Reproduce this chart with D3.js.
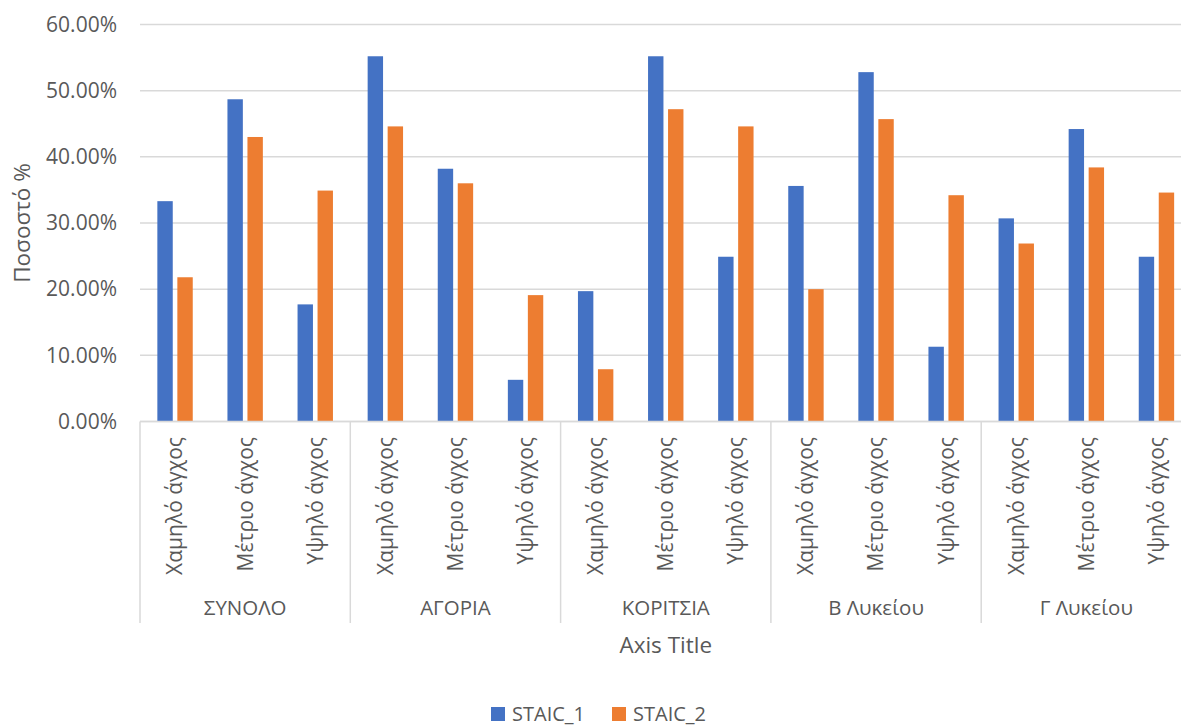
<!DOCTYPE html>
<html>
<head>
<meta charset="utf-8">
<script src="https://cdn.jsdelivr.net/npm/d3@7"></script>
<style>
  html, body { margin: 0; padding: 0; background: #fff; }
  svg { display: block; font-family: "Open Sans", "Noto Sans", sans-serif; }
</style>
</head>
<body>
<svg id="chart" width="1181" height="727"></svg>
<script>
// Anxiety levels per group, two STAIC measurements
const groups = ["ΣΥΝΟΛΟ", "ΑΓΟΡΙΑ", "ΚΟΡΙΤΣΙΑ", "Β Λυκείου", "Γ Λυκείου"];
const levels = ["Χαμηλό άγχος", "Μέτριο άγχος", "Υψηλό άγχος"];
const seriesNames = ["STAIC_1", "STAIC_2"];
const staic1 = [0.333, 0.487, 0.177, 0.552, 0.382, 0.063, 0.197, 0.552, 0.249, 0.356, 0.528, 0.113, 0.307, 0.442, 0.249];
const staic2 = [0.218, 0.430, 0.349, 0.446, 0.360, 0.191, 0.079, 0.472, 0.446, 0.200, 0.457, 0.342, 0.269, 0.384, 0.346];
const yTicks = [0, 0.1, 0.2, 0.3, 0.4, 0.5, 0.6];

const colors = ["#4472C4", "#ED7D31"];
const textColor = "#595959";
const gridColor = "#D9D9D9";

const svg = d3.select("#chart");

const plotLeft = 140, plotRight = 1191.5, plotTop = 24.5, plotBottom = 421.5;

// flat list of (group, level) categories
const cats = [];
groups.forEach((g, gi) => levels.forEach((l, li) => cats.push({ g, gi, l, li, i: gi * levels.length + li })));

const x0 = d3.scaleBand().domain(cats.map(c => c.i)).range([plotLeft, plotRight]).paddingInner(0).paddingOuter(0);
const xg = d3.scaleBand().domain(groups).range([plotLeft, plotRight]);
const x1 = d3.scaleBand().domain(seriesNames).range([0, x0.bandwidth()]).paddingInner(0.23).paddingOuter(0.8675);
const y = d3.scaleLinear().domain([0, 0.6]).range([plotBottom, plotTop]);

// gridlines
svg.append("g")
  .selectAll("line")
  .data(yTicks)
  .join("line")
  .attr("x1", plotLeft).attr("x2", plotRight)
  .attr("y1", d => y(d)).attr("y2", d => y(d))
  .attr("stroke", gridColor).attr("stroke-width", 1.5);

// y axis labels
const yAxis = d3.axisLeft(y).tickValues(yTicks).tickFormat(d3.format(".2%")).tickSize(0).tickPadding(0);
const gy = svg.append("g").attr("transform", `translate(117,0)`).call(yAxis);
gy.select(".domain").remove();
gy.attr("font-family", null).attr("font-size", null);
gy.selectAll("text").attr("fill", textColor).style("font-size", "21px");

// bars
const seriesData = [staic1, staic2];
const barG = svg.append("g");
seriesData.forEach((vals, si) => {
  barG.append("g")
    .selectAll("rect")
    .data(cats)
    .join("rect")
    .attr("x", c => x0(c.i) + x1(seriesNames[si]))
    .attr("width", x1.bandwidth())
    .attr("y", c => y(vals[c.i]))
    .attr("height", c => plotBottom - y(vals[c.i]))
    .attr("fill", colors[si]);
});

// category axis: baseline and group separators
svg.append("line")
  .attr("x1", plotLeft).attr("x2", plotRight)
  .attr("y1", plotBottom).attr("y2", plotBottom)
  .attr("stroke", gridColor).attr("stroke-width", 1.5);

const sepX = groups.map(g => xg(g)).concat([plotRight]);
svg.append("g")
  .selectAll("line")
  .data(sepX)
  .join("line")
  .attr("x1", d => d).attr("x2", d => d)
  .attr("y1", plotBottom).attr("y2", 623)
  .attr("stroke", gridColor).attr("stroke-width", 1.5);

// level labels, rotated
svg.append("g")
  .selectAll("text")
  .data(cats)
  .join("text")
  .attr("transform", c => `translate(${x0(c.i) + x0.bandwidth() / 2},437) rotate(-90)`)
  .attr("text-anchor", "end")
  .attr("dy", "0.35em")
  .attr("fill", textColor)
  .style("font-size", "21px")
  .text(c => c.l);

// group labels
svg.append("g")
  .selectAll("text")
  .data(groups)
  .join("text")
  .attr("x", g => xg(g) + xg.bandwidth() / 2)
  .attr("y", 615)
  .attr("text-anchor", "middle")
  .attr("fill", textColor)
  .style("font-size", "20.5px")
  .text(g => g);

// axis titles
svg.append("text")
  .attr("x", (plotLeft + plotRight) / 2)
  .attr("y", 653)
  .attr("text-anchor", "middle")
  .attr("fill", textColor)
  .style("font-size", "22.5px")
  .text("Axis Title");

svg.append("text")
  .attr("transform", "translate(30,223) rotate(-90)")
  .attr("text-anchor", "middle")
  .attr("fill", textColor)
  .style("font-size", "22.5px")
  .text("Ποσοστό %");

// legend
const legend = svg.append("g");
const legendX = [491, 612];
seriesNames.forEach((name, si) => {
  const lg = legend.append("g").attr("transform", `translate(${legendX[si]},707)`);
  lg.append("rect").attr("width", 14).attr("height", 14).attr("fill", colors[si]);
  lg.append("text")
    .attr("x", 21).attr("y", 14)
    .attr("fill", textColor)
    .style("font-size", "20px")
    .text(name);
});
</script>
</body>
</html>
